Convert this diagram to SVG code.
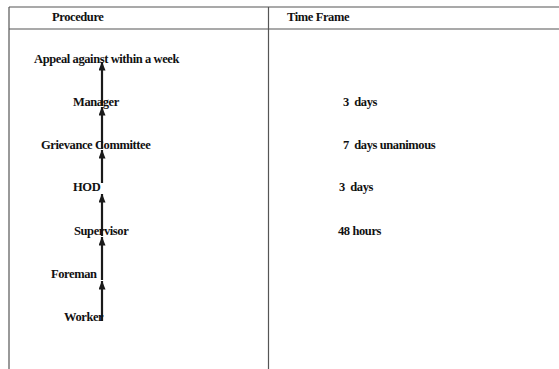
<svg xmlns="http://www.w3.org/2000/svg" width="559" height="369" viewBox="0 0 559 369">
<defs>
<marker id="ah" viewBox="0 0 9 7" refX="8.5" refY="3.5" markerWidth="9" markerHeight="7" orient="auto" markerUnits="userSpaceOnUse">
<path d="M0,0 L9,3.5 L0,7 z" fill="#1a1a1a"/>
</marker>
</defs>
<style>
text{font-family:"Liberation Serif","DejaVu Serif","Times New Roman",serif;font-weight:bold;font-size:12.5px;fill:#111;letter-spacing:-0.4px}
.grid{stroke:#555;stroke-width:1.2;fill:none}
.arr{stroke:#1a1a1a;stroke-width:2.2;fill:none;marker-end:url(#ah)}
</style>
<rect width="559" height="369" fill="#fff"/>
<g id="table">
<line class="grid" x1="9" y1="7" x2="559" y2="7"/>
<line class="grid" x1="9" y1="29" x2="559" y2="29"/>
<line class="grid" x1="9" y1="7" x2="9" y2="369"/>
<line class="grid" x1="268.5" y1="7" x2="268.5" y2="369"/>
<text x="52" y="21">Procedure</text>
<text x="287" y="21">Time Frame</text>
</g>
<g id="connectors">
<line class="arr" x1="102" y1="321" x2="102" y2="281"/>
<line class="arr" x1="102" y1="280" x2="102" y2="237"/>
<line class="arr" x1="102" y1="236" x2="102" y2="194"/>
<line class="arr" x1="102" y1="183" x2="102" y2="150"/>
<line class="arr" x1="102" y1="149" x2="102" y2="107"/>
<line class="arr" x1="102" y1="106" x2="102" y2="62"/>
</g>
<g id="n-appeal"><text x="34" y="63">Appeal against within a week</text></g>
<g id="n-manager"><text x="73" y="106">Manager</text></g>
<g id="n-grievance"><text x="41" y="149">Grievance Committee</text></g>
<g id="n-hod"><text x="73" y="191">HOD</text></g>
<g id="n-supervisor"><text x="74" y="235">Supervisor</text></g>
<g id="n-foreman"><text x="51" y="278">Foreman</text></g>
<g id="n-worker"><text x="64" y="321">Worker</text></g>
<g id="t-manager"><text x="343" y="106" xml:space="preserve">3  days</text></g>
<g id="t-grievance"><text x="343" y="149" xml:space="preserve">7  days unanimous</text></g>
<g id="t-hod"><text x="339" y="191" xml:space="preserve">3  days</text></g>
<g id="t-supervisor"><text x="338" y="235">48 hours</text></g>
</svg>
